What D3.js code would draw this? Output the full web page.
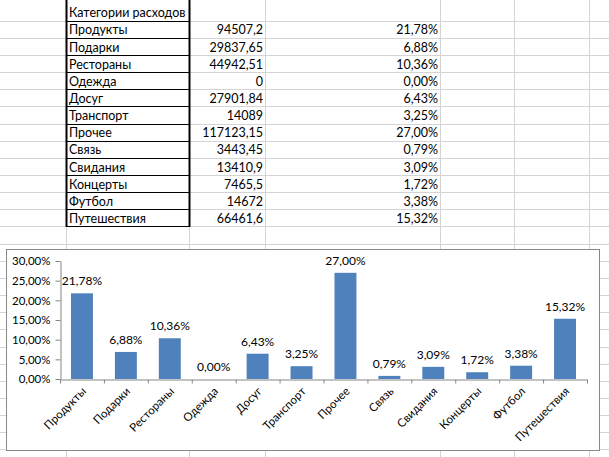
<!DOCTYPE html>
<html>
<head>
<meta charset="utf-8">
<script src="https://cdn.jsdelivr.net/npm/d3@7"></script>
<style>
  body { margin: 0; background: #fff; }
  text { font-family: Lato, 'Noto Sans', sans-serif; fill: #000; }
</style>
</head>
<body>
<svg width="609" height="457"></svg>
<script>
const header = 'Категории расходов';
const categories = ['Продукты', 'Подарки', 'Рестораны', 'Одежда', 'Досуг', 'Транспорт',
  'Прочее', 'Связь', 'Свидания', 'Концерты', 'Футбол', 'Путешествия'];
const amounts = [94507.2, 29837.65, 44942.51, 0, 27901.84, 14089,
  117123.15, 3443.45, 13410.9, 7465.5, 14672, 66461.6];
const shares = [21.78, 6.88, 10.36, 0, 6.43, 3.25, 27.00, 0.79, 3.09, 1.72, 3.38, 15.32];
const yTicks = [0, 5, 10, 15, 20, 25, 30];

const svg = d3.select('svg');
const width = +svg.attr('width');
const height = +svg.attr('height');

const ru = d3.formatLocale({ decimal: ',', thousands: ' ', grouping: [3], currency: ['', ''] });
const pct = v => ru.format('.2f')(v) + '%';
const num = v => String(v).replace('.', ',');

// --- spreadsheet grid ---
const colX = [66, 189, 265, 440, 514, 589];
const rowH = 17.15;
const firstLine = 20.7;
const rowLines = d3.range(0, 26).map(k => firstLine + k * rowH).filter(y => y < height);

const grid = svg.append('g').attr('class', 'grid');
grid.selectAll('.hline').data(rowLines)
  .enter().append('line')
    .attr('x1', 0).attr('x2', width)
    .attr('y1', d => Math.round(d) + 0.5).attr('y2', d => Math.round(d) + 0.5)
    .attr('stroke', '#d4d4d4');
grid.selectAll('.vline').data(colX)
  .enter().append('line')
    .attr('x1', d => d + 0.5).attr('x2', d => d + 0.5)
    .attr('y1', 0).attr('y2', height)
    .attr('stroke', '#d4d4d4');

// --- table ---
const table = svg.append('g').attr('class', 'table');
const tableBottom = Math.round(firstLine + categories.length * rowH);
table.selectAll('.bline').data(rowLines.slice(0, categories.length + 1))
  .enter().append('line')
    .attr('x1', colX[0]).attr('x2', colX[1])
    .attr('y1', d => Math.round(d) + 0.5).attr('y2', d => Math.round(d) + 0.5)
    .attr('stroke', '#000');
table.selectAll('.bvline').data([colX[0], colX[1]])
  .enter().append('line')
    .attr('x1', d => d + 0.5).attr('x2', d => d + 0.5)
    .attr('y1', 0).attr('y2', tableBottom + 1)
    .attr('stroke', '#000').attr('stroke-width', 2);

table.append('text')
    .attr('x', 69).attr('y', firstLine - 3.8)
    .style('font-size', '12.5px')
    .text(header);

const rows = table.selectAll('.row').data(categories)
  .enter().append('g')
    .attr('transform', (d, i) => `translate(0,${firstLine + (i + 1) * rowH - 3.5})`);
rows.append('text')
    .attr('x', 69)
    .style('font-size', '12.5px')
    .text(d => d);
rows.append('text')
    .attr('x', 263).attr('text-anchor', 'end')
    .style('font-size', '12.5px')
    .text((d, i) => num(amounts[i]));
rows.append('text')
    .attr('x', 438).attr('text-anchor', 'end')
    .style('font-size', '12.5px')
    .text((d, i) => pct(shares[i]));

// --- chart ---
const box = { left: 6, top: 249, right: 599, bottom: 450 };
const chart = svg.append('g').attr('class', 'chart');
chart.append('rect')
    .attr('x', box.left + 0.5).attr('y', box.top + 0.5)
    .attr('width', box.right - box.left).attr('height', box.bottom - box.top)
    .attr('fill', '#fff').attr('stroke', '#888');

const plot = { left: 60, right: 587, top: 261, bottom: 379 };

const xScale = d3.scaleBand()
  .domain(categories)
  .range([plot.left, plot.right])
  .paddingInner(0.5)
  .paddingOuter(0.25);

const edgeScale = d3.scaleLinear()
  .domain([0, categories.length])
  .range([plot.left, plot.right]);

const yScale = d3.scaleLinear()
  .domain([0, 30])
  .range([plot.bottom, plot.top]);

const yAxis = d3.axisLeft(yScale)
  .tickValues(yTicks)
  .tickSize(5)
  .tickSizeOuter(0)
  .tickPadding(5)
  .tickFormat(pct);

const yAxisG = chart.append('g')
    .attr('transform', `translate(${plot.left + 0.5},0)`)
    .call(yAxis);
yAxisG.selectAll('path, line').attr('stroke', '#868686');
yAxisG.selectAll('text').style('font-size', '11.5px').attr('fill', '#000');

const xAxis = d3.axisBottom(edgeScale)
  .tickValues(d3.range(0, categories.length + 1))
  .tickSize(4)
  .tickSizeOuter(0)
  .tickFormat('');

const xAxisG = chart.append('g')
    .attr('transform', `translate(0,${plot.bottom + 0.5})`)
    .call(xAxis);
xAxisG.selectAll('path, line').attr('stroke', '#868686');

chart.selectAll('.bar').data(categories)
  .enter().append('rect')
    .attr('class', 'bar')
    .attr('x', d => xScale(d))
    .attr('width', xScale.bandwidth())
    .attr('y', (d, i) => yScale(shares[i]))
    .attr('height', (d, i) => plot.bottom - yScale(shares[i]))
    .attr('fill', '#4f81bd');

chart.selectAll('.value').data(categories)
  .enter().append('text')
    .attr('class', 'value')
    .attr('x', d => xScale(d) + xScale.bandwidth() / 2)
    .attr('y', (d, i) => yScale(shares[i]) - 8)
    .attr('text-anchor', 'middle')
    .style('font-size', '12px')
    .text((d, i) => pct(shares[i]));

chart.selectAll('.cat').data(categories)
  .enter().append('text')
    .attr('class', 'cat')
    .attr('text-anchor', 'end')
    .attr('transform', d => `translate(${xScale(d) + xScale.bandwidth() / 2 + 5},${plot.bottom + 13}) rotate(-45)`)
    .style('font-size', '11.5px')
    .text(d => d);
</script>
</body>
</html>
